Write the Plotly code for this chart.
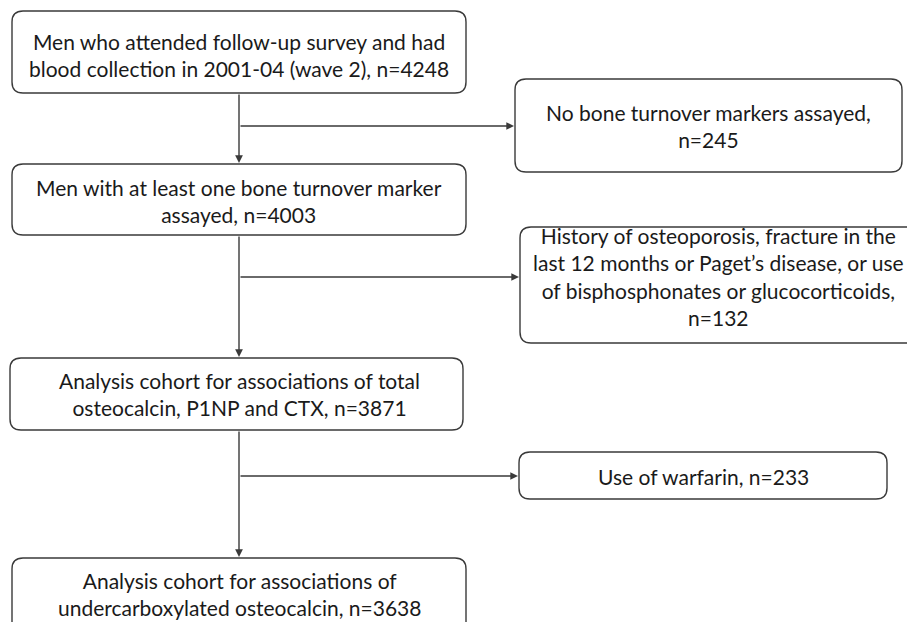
import plotly.graph_objects as go

# --- data: flowchart content ---
main_labels = [
    "Men who attended follow-up survey and had<br>blood collection in 2001-04 (wave 2), n=4248",
    "Men with at least one bone turnover marker<br>assayed, n=4003",
    "Analysis cohort for associations of total<br>osteocalcin, P1NP and CTX, n=3871",
    "Analysis cohort for associations of<br>undercarboxylated osteocalcin, n=3638",
]
main_n = [4248, 4003, 3871, 3638]
excl_labels = [
    "No bone turnover markers assayed,<br>n=245",
    "History of osteoporosis, fracture in the<br>last 12 months or Paget\u2019s disease, or use<br>of bisphosphonates or glucocorticoids,<br>n=132",
    "Use of warfarin, n=233",
]
excl_n = [245, 132, 233]

# --- layout geometry (pixels) ---
main_boxes = [(12, 11, 466, 93), (12, 164, 466, 235), (10, 358, 463, 430), (12, 558, 466, 660)]
main_text_y = [55, 201, 394, 594]
excl_boxes = [(515, 79, 902, 172), (520, 227, 930, 343), (519, 452, 887, 499)]
excl_text = [(708, 126), (718, 276), (703, 476)]
branch_y = [126, 277, 476]
stem_x = 239
LC = "#3a3a3a"
FONT = dict(family="Lato, 'Open Sans', sans-serif", size=21, color="#1a1a1a")


def rrect(x0, y0, x1, y1, r=11):
    return (f"M{x0+r},{y0} L{x1-r},{y0} Q{x1},{y0} {x1},{y0+r} "
            f"L{x1},{y1-r} Q{x1},{y1} {x1-r},{y1} L{x0+r},{y1} "
            f"Q{x0},{y1} {x0},{y1-r} L{x0},{y0+r} Q{x0},{y0} {x0+r},{y0} Z")


fig = go.Figure()
shapes = []
annotations = []

for b in main_boxes + excl_boxes:
    shapes.append(dict(type="path", path=rrect(*b), xref="x", yref="y",
                       line=dict(color=LC, width=1.4), fillcolor="white"))

for lbl, ty in zip(main_labels, main_text_y):
    annotations.append(dict(x=stem_x, y=ty, text=lbl, showarrow=False, xref="x", yref="y",
                            font=FONT, align="center"))
for lbl, (tx, ty) in zip(excl_labels, excl_text):
    annotations.append(dict(x=tx, y=ty, text=lbl, showarrow=False, xref="x", yref="y",
                            font=FONT, align="center"))

# vertical arrows between main boxes
for i in range(3):
    top = main_boxes[i][3]
    bottom = main_boxes[i + 1][1]
    annotations.append(dict(x=stem_x, y=bottom - 1, ax=stem_x, ay=top, xref="x", yref="y",
                            axref="x", ayref="y", text="", showarrow=True, arrowhead=2,
                            arrowsize=1.1, arrowwidth=1.4, arrowcolor=LC, standoff=0))

# horizontal exclusion arrows
for by, eb in zip(branch_y, excl_boxes):
    annotations.append(dict(x=eb[0] - 1, y=by, ax=stem_x, ay=by, xref="x", yref="y",
                            axref="x", ayref="y", text="", showarrow=True, arrowhead=2,
                            arrowsize=1.1, arrowwidth=1.4, arrowcolor=LC, standoff=0))

fig.update_layout(
    width=907, height=622,
    margin=dict(l=0, r=0, t=0, b=0),
    paper_bgcolor="white", plot_bgcolor="white",
    xaxis=dict(range=[0, 907], visible=False, fixedrange=True),
    yaxis=dict(range=[622, 0], visible=False, fixedrange=True),
    shapes=shapes, annotations=annotations, showlegend=False,
)
fig.write_html("out.html", config={"displayModeBar": False},
               post_script="document.body.style.margin='0';document.body.style.overflow='hidden';")
